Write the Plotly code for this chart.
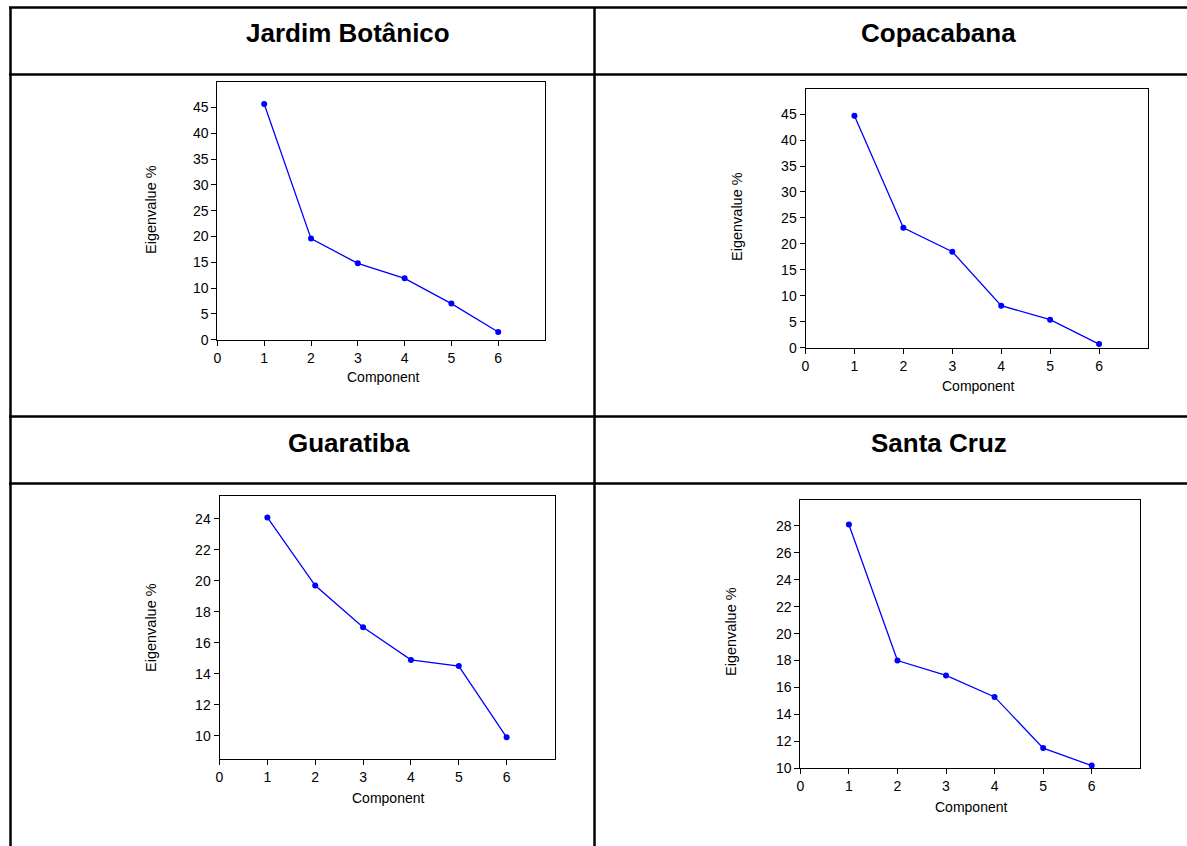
import plotly.graph_objects as go

W, H = 1187, 846

components = [1, 2, 3, 4, 5, 6]
x_ticks = [0, 1, 2, 3, 4, 5, 6]
regions = ["Jardim Botânico", "Copacabana", "Guaratiba", "Santa Cruz"]
jardim = [45.7, 19.6, 14.8, 11.9, 7.0, 1.5]
copacabana = [44.7, 23.1, 18.5, 8.1, 5.4, 0.7]
guaratiba = [24.1, 19.7, 17.0, 14.9, 14.5, 9.9]
santa_cruz = [28.1, 18.0, 16.9, 15.3, 11.5, 10.2]
series = [jardim, copacabana, guaratiba, santa_cruz]
y_ranges = [[0, 49.9], [0, 49.9], [8.5, 25.5], [10, 29.9]]
y_dticks = [5, 5, 2, 2]
y_tick0 = [0, 0, 10, 10]

# layout in pixels
boxes = [  # x0, x1, ytop, ybottom
    (217.4, 545.0, 82.3, 339.7),
    (805.5, 1148.0, 88.7, 347.7),
    (219.5, 554.5, 495.7, 759.0),
    (800.3, 1140.3, 500.3, 768.3),
]
ytitle_pos = [(151, 209), (737, 217), (151, 627), (731, 632)]
xtitle_pos = [(383, 377), (978, 386), (388, 798), (971, 807)]
header_pos = [(348, 33), (938, 33), (349, 443), (939, 443)]

FONT = "Arial, Liberation Sans, Helvetica, sans-serif"


def px(x):
    return x / W


def py(y):
    return 1 - y / H


fig = go.Figure()
layout = dict(
    template="none",
    width=W, height=H, autosize=False,
    margin=dict(l=0, r=0, t=0, b=0, pad=0, autoexpand=False),
    paper_bgcolor="white", plot_bgcolor="white",
    showlegend=False,
    font=dict(family=FONT, color="black"),
)
annotations = []
for i in range(4):
    k = "" if i == 0 else str(i + 1)
    x0, x1, yt, yb = boxes[i]
    fig.add_trace(go.Scatter(
        x=components, y=series[i], mode="lines+markers",
        line=dict(color="#0000FF", width=1.3),
        marker=dict(color="#0000FF", size=6),
        xaxis="x" + k, yaxis="y" + k, hoverinfo="x+y",
    ))
    common = dict(
        showline=True, mirror=True, linecolor="black", linewidth=1,
        ticks="outside", ticklen=5, tickwidth=1, tickcolor="black",
        showgrid=False, zeroline=False, automargin=False,
        tickfont=dict(family=FONT, size=14, color="black"),
    )
    layout["xaxis" + k] = dict(
        domain=[px(x0), px(x1)], anchor="y" + k, range=[0, 7],
        tickmode="array", tickvals=x_ticks, ticktext=[str(t) for t in x_ticks],
        **common,
    )
    layout["yaxis" + k] = dict(
        domain=[py(yb), py(yt)], anchor="x" + k, range=y_ranges[i],
        tickmode="linear", tick0=y_tick0[i], dtick=y_dticks[i],
        **common,
    )
    annotations.append(dict(
        text="Eigenvalue %", x=px(ytitle_pos[i][0]), y=py(ytitle_pos[i][1]),
        xref="paper", yref="paper", showarrow=False, textangle=-90,
        xanchor="center", yanchor="middle",
        font=dict(family=FONT, size=14.5, color="black"),
    ))
    annotations.append(dict(
        text="Component", x=px(xtitle_pos[i][0]), y=py(xtitle_pos[i][1]),
        xref="paper", yref="paper", showarrow=False,
        xanchor="center", yanchor="middle",
        font=dict(family=FONT, size=14, color="black"),
    ))
    annotations.append(dict(
        text="<b>" + regions[i] + "</b>", x=px(header_pos[i][0]), y=py(header_pos[i][1]),
        xref="paper", yref="paper", showarrow=False,
        xanchor="center", yanchor="middle",
        font=dict(family=FONT, size=26, color="black"),
    ))

layout["annotations"] = annotations

lw = 2.5
shapes = []
# horizontal table lines
for yy in [7.5, 74.5, 416.5, 483.5]:
    shapes.append(dict(type="line", xref="paper", yref="paper",
                       x0=px(9), x1=1, y0=py(yy), y1=py(yy),
                       line=dict(color="black", width=lw)))
# vertical table lines
for xx in [10.5, 594.5]:
    shapes.append(dict(type="line", xref="paper", yref="paper",
                       x0=px(xx), x1=px(xx), y0=py(7), y1=0,
                       line=dict(color="black", width=lw)))
layout["shapes"] = shapes

fig.update_layout(**layout)
fig.write_html(
    "out.html",
    config={"displayModeBar": False, "responsive": False},
    post_script=(
        "var s=document.createElement('style');"
        "s.textContent='html,body{margin:0;padding:0;overflow:hidden;}';"
        "document.head.appendChild(s);"
    ),
)
